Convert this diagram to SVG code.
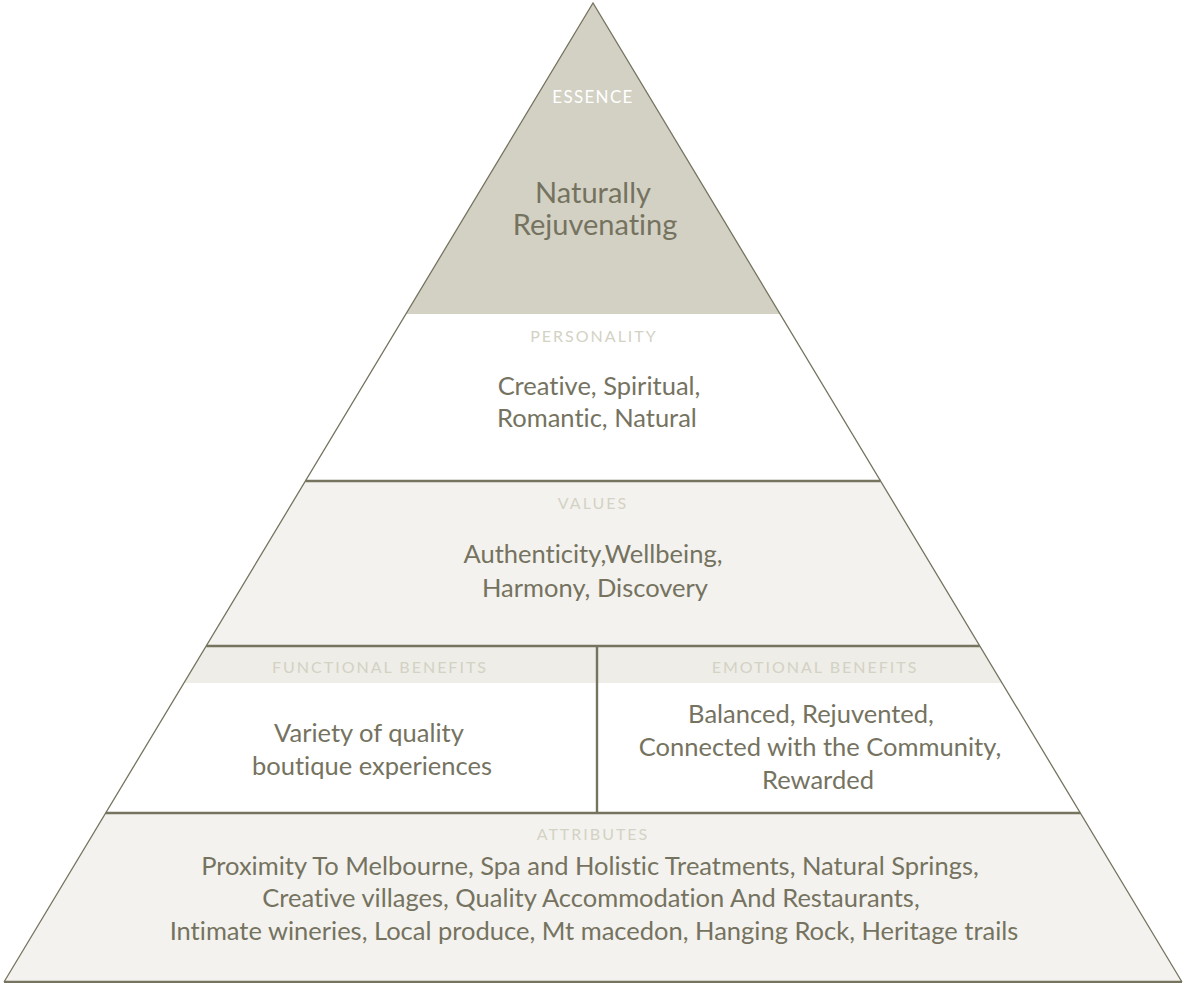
<svg xmlns="http://www.w3.org/2000/svg" width="1184" height="983" viewBox="0 0 1184 983">
<style>
text{font-variant-ligatures:none;font-feature-settings:"liga" 0}
.body{font-family:Lato,"Open Sans","Liberation Sans",sans-serif;font-size:25.5px;fill:#75735f;text-anchor:middle}
.big{font-size:29px}
.lbl{font-family:Lato,"Open Sans","Liberation Sans",sans-serif;font-size:16px;fill:#d3d2c4;text-anchor:middle;letter-spacing:2px}
.ess{fill:#ffffff;font-size:17px;letter-spacing:1.3px}
.rule{stroke:#76745f;stroke-width:2.4;fill:none}
.edge{stroke:#76745f;stroke-width:1.3;fill:none}
</style>
<rect width="1184" height="983" fill="#ffffff"/>
<g id="essence">
<polygon points="593,3 780.1,314 405.9,314" fill="#d3d1c4"/>
<text class="lbl ess" x="593" y="103">ESSENCE</text>
<text class="body big" x="593" y="203">Naturally</text>
<text class="body big" x="595" y="235">Rejuvenating</text>
</g>
<g id="personality">
<polygon points="405.9,314 780.1,314 880.6,481 305.4,481" fill="#ffffff"/>
<text class="lbl" x="594" y="342">PERSONALITY</text>
<text class="body" x="599" y="395">Creative, Spiritual,</text>
<text class="body" x="597" y="427">Romantic, Natural</text>
</g>
<g id="values">
<polygon points="305.4,481 880.6,481 979.8,646 206.2,646" fill="#f3f2ee"/>
<text class="lbl" x="593" y="509">VALUES</text>
<text class="body" x="593" y="563">Authenticity,Wellbeing,</text>
<text class="body" x="595" y="597">Harmony, Discovery</text>
</g>
<g id="functional-benefits">
<polygon points="206.2,646 597,646 597,683 183.9,683" fill="#eeede7"/>
<polygon points="183.9,683 597,683 597,813 105.7,813" fill="#ffffff"/>
<text class="lbl" x="380" y="673">FUNCTIONAL BENEFITS</text>
<text class="body" x="369" y="742">Variety of quality</text>
<text class="body" x="372" y="775">boutique experiences</text>
</g>
<g id="emotional-benefits">
<polygon points="597,646 979.8,646 1002.1,683 597,683" fill="#eeede7"/>
<polygon points="597,683 1002.1,683 1080.3,813 597,813" fill="#ffffff"/>
<text class="lbl" x="815" y="673">EMOTIONAL BENEFITS</text>
<text class="body" x="811" y="723">Balanced, Rejuvented,</text>
<text class="body" x="820" y="756">Connected with the Community,</text>
<text class="body" x="818" y="789">Rewarded</text>
</g>
<g id="attributes">
<polygon points="105.7,813 1080.3,813 1182,982 4,982" fill="#f3f2ee"/>
<text class="lbl" x="593" y="840">ATTRIBUTES</text>
<text class="body" x="590" y="875">Proximity To Melbourne, Spa and Holistic Treatments, Natural Springs,</text>
<text class="body" x="591" y="907">Creative villages, Quality Accommodation And Restaurants,</text>
<text class="body" x="594" y="940">Intimate wineries, Local produce, Mt macedon, Hanging Rock, Heritage trails</text>
</g>
<g id="connectors">
<polyline class="edge" points="4,982 593,3 1182,982"/>
<line class="rule" x1="305.4" y1="481" x2="880.6" y2="481"/>
<line class="rule" x1="206.2" y1="646" x2="979.8" y2="646"/>
<line class="rule" x1="105.7" y1="813" x2="1080.3" y2="813"/>
<line class="rule" x1="4" y1="982" x2="1182" y2="982"/>
<line class="rule" x1="597" y1="646" x2="597" y2="813"/>
</g>
</svg>
